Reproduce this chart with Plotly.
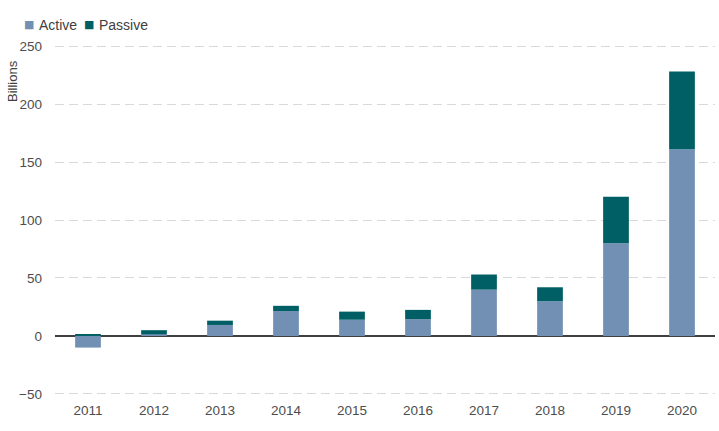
import plotly.graph_objects as go

years = ["2011", "2012", "2013", "2014", "2015", "2016", "2017", "2018", "2019", "2020"]
active = [-10, 1.5, 9.5, 21.5, 14, 14.5, 40, 30, 80, 161]
passive = [1, 3.5, 3.7, 4.5, 7, 8, 13, 12, 40, 67]
series_names = ["Active", "Passive"]

ACTIVE_COLOR = "#7290b4"
PASSIVE_COLOR = "#005f64"
FONT = "Liberation Sans, Arial, sans-serif"
W, H = 719, 431
L, R, T, B = 55, 4, 40, 31

fig = go.Figure()
fig.add_trace(go.Bar(x=years, y=active, name=series_names[0],
                     marker=dict(color=ACTIVE_COLOR, line=dict(width=0))))
fig.add_trace(go.Bar(x=years, y=passive, name=series_names[1],
                     marker=dict(color=PASSIVE_COLOR, line=dict(width=0))))

fig.update_layout(
    width=W, height=H,
    barmode="relative",
    bargap=0.61,
    plot_bgcolor="white", paper_bgcolor="white",
    margin=dict(l=L, r=R, t=T, b=B, autoexpand=False),
    font=dict(family=FONT, size=13.5, color="#4d4d4d"),
    showlegend=False,
)
fig.update_xaxes(showgrid=False, showline=False, ticks="",
                 tickfont=dict(size=13.5, color="#4d4d4d"))
fig.update_yaxes(range=[-55.2, 255.2], tickvals=[-50, 0, 50, 100, 150, 200, 250],
                 showgrid=True, gridcolor="#d9d9d9", griddash="9px,5px", gridwidth=1,
                 zeroline=True, zerolinecolor="#404040", zerolinewidth=1.5,
                 showline=False, ticks="", ticklabelstandoff=12,
                 tickfont=dict(size=13.5, color="#4d4d4d"))

# legend drawn as text: colored square + label
def px_x(p):
    return (p - L) / (W - L - R)

def px_y(p):
    return (H - B - p) / (H - T - B)

for sq_x, txt_x, color, name in [(29, 37, ACTIVE_COLOR, series_names[0]),
                                 (89, 97, PASSIVE_COLOR, series_names[1])]:
    fig.add_annotation(text="■", xref="paper", yref="paper", x=px_x(sq_x), y=px_y(25),
                       xanchor="center", yanchor="middle", showarrow=False,
                       font=dict(family="DejaVu Sans", size=11, color=color))
    fig.add_annotation(text=name, xref="paper", yref="paper", x=px_x(txt_x), y=px_y(25),
                       xanchor="left", yanchor="middle", showarrow=False,
                       font=dict(family=FONT, size=14, color="#404040"))

fig.add_annotation(text="Billions", xref="paper", yref="paper",
                   x=px_x(12), y=px_y(81), xanchor="center", yanchor="middle",
                   textangle=-90, showarrow=False,
                   font=dict(family=FONT, size=13, color="#404040"))

fig.write_html("out.html", config={"displayModeBar": False},
               post_script="document.body.style.margin='0';document.body.style.padding='0';")
